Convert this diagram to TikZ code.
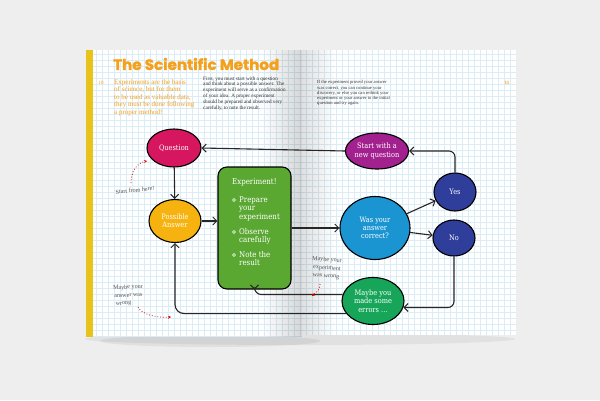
\documentclass[tikz,border=0pt]{standalone}
\usepackage{fontspec}
\usepackage{graphicx}
\setmainfont{Liberation Serif}
\newfontfamily\slab[FakeStretch=0.88]{DejaVu Serif}
\newfontfamily\titlefont[BoldFeatures={FakeBold=1.5}]{Poppins}
\usetikzlibrary{shapes.geometric,arrows.meta,calc,fadings}
\definecolor{bgc}{HTML}{EEEEEE}
\definecolor{gridc}{HTML}{DAECF5}
\definecolor{spiney}{HTML}{E8C31C}
\definecolor{orng}{HTML}{F5A01A}
\definecolor{qcol}{HTML}{D6175F}
\definecolor{pacol}{HTML}{F6B30F}
\definecolor{expcol}{HTML}{5AA832}
\definecolor{snqcol}{HTML}{A3218F}
\definecolor{yncol}{HTML}{2F3E9B}
\definecolor{wascol}{HTML}{1B95D2}
\definecolor{mmecol}{HTML}{17A55A}
\definecolor{annc}{HTML}{555555}
\tikzset{
 blob/.style={ellipse, draw=black, line width=1.1pt, inner sep=0pt, text=white, font=\slab\fontsize{7.5}{8.3}\selectfont, align=center},
 expbox/.style={rectangle, rounded corners=9pt, fill=expcol, draw=black, line width=1.1pt, minimum width=73pt, minimum height=122pt},
 exptxt/.style={text=white, font=\slab\fontsize{8}{8.5}\selectfont, inner sep=0pt, align=left},
 bul/.style={circle, draw=white, line width=0.6pt, minimum size=3pt, inner sep=0pt},
 conn/.style={draw=black!85, line width=1.1pt, -{Straight Barb[length=4pt,width=8pt,line width=1pt]}},
 annot/.style={text=annc, font=\fontsize{6.1}{7.5}\selectfont, inner sep=0pt},
 redarr/.style={draw=red!85!black, line width=0.8pt, dotted, -{Stealth[length=3pt,width=3pt]}},
 para/.style={inner sep=0pt, align=left, anchor=north west},
}
\begin{document}
\begin{tikzpicture}[x=1pt,y=-1pt]
\fill[bgc] (0,0) rectangle (600,400);
\useasboundingbox (0,0) rectangle (600,400);
% shadow under book
\fill[black, opacity=0.05] (300,339) ellipse [x radius=215, y radius=6];
\fill[black, opacity=0.06] (210,341) ellipse [x radius=110, y radius=6];
% pages
\fill[white] (86,50) rectangle (302,337);
\fill[white] (302,50) rectangle (516,335);
\begin{scope}
\clip (93,50) rectangle (302,337) (302,50) rectangle (516,335);
\foreach \x in {96,102,...,516} \draw[gridc, line width=0.5pt] (\x,50) -- (\x,337);
\foreach \y in {54,60,...,336} \draw[gridc, line width=0.5pt] (86,\y) -- (516,\y);
\end{scope}
% spine shading
\fill[black, path fading=west, opacity=0.16] (262,50) rectangle (302,337);
\fill[black, path fading=east, opacity=0.12] (302,50) rectangle (335,335);
% yellow strip
\fill[spiney] (86,50) rectangle (93,337);
% title and texts
\node[inner sep=0pt, anchor=west, text=orng] (title) at (113,64) {\resizebox{166pt}{12pt}{\titlefont\bfseries The Scientific Method}};
\node[inner sep=0pt, text=orng, font=\fontsize{5}{6}\selectfont] (p10) at (101,83) {10};
\node[inner sep=0pt, text=orng, font=\bfseries\fontsize{5}{6}\selectfont] (p11) at (507,83) {11};
\node[para, text=orng, font=\fontsize{7}{7.5}\selectfont] (intro) at (114,79.3) {Experiments are the basis\\of science, but for them\\to be used as valuable data,\\they must be done following\\a proper method!};
\node[para, text=black!80, font=\fontsize{5.2}{5.8}\selectfont] (parl) at (203,76.3) {First, you must start with a question\\and think about a possible answer. The\\experiment will serve as a confirmation\\of your idea. A proper experiment\\should be prepared and observed very\\carefully, to note the result.};
\node[para, text=black!80, font=\fontsize{4.6}{5.1}\selectfont] (parr) at (317,80.5) {If the experiment proved your answer\\was correct, you can continue your\\discovery, or else you can rethink your\\experiment or your answer to the initial\\question and try again.};
% nodes
\node[blob, fill=qcol, minimum width=54pt, minimum height=38pt] (q) at (174,148) {Question};
\node[blob, fill=pacol, minimum width=52pt, minimum height=43pt] (pa) at (175,221) {Possible\\Answer};
\node[expbox] (exp) at (254.5,228) {};
\node[blob, fill=snqcol, minimum width=62pt, minimum height=36pt] (snq) at (377,151) {Start with a\\new question};
\node[blob, fill=yncol, minimum width=42pt, minimum height=38pt] (yes) at (455,192) {Yes};
\node[blob, fill=wascol, minimum width=70pt, minimum height=63pt] (was) at (375,228) {Was your\\answer\\correct?};
\node[blob, fill=yncol, minimum width=42pt, minimum height=36pt] (no) at (454,238) {No};
\node[blob, fill=mmecol, minimum width=62pt, minimum height=47pt] (mme) at (373,301) {Maybe you\\made some\\errors \dots};
% experiment text
\node[exptxt, anchor=west] (et0) at (232,182) {Experiment!};
\node[bul] (b1) at (234,200) {};
\node[bul] (b2) at (234,232) {};
\node[bul] (b3) at (234,255) {};
\node[exptxt, anchor=north west] (et1) at (239,196) {Prepare\\your\\experiment};
\node[exptxt, anchor=north west] (et2) at (239,228) {Observe\\carefully};
\node[exptxt, anchor=north west] (et3) at (239,251) {Note the\\result};
% connectors
\draw[conn] (q) -- (pa);
\draw[conn] (pa.east) -- (pa.east -| exp.west);
\draw[conn] (exp.east) -- (was.west);
\draw[conn] (was) -- (yes);
\draw[conn] (was) -- (no);
\draw[conn, rounded corners=6pt] (yes.north) |- (snq.east);
\draw[conn] (snq.west) -- (q.east);
\draw[conn, rounded corners=6pt] (no.south) |- (mme.-12);
\draw[conn, rounded corners=7pt] (mme.168) -- (mme.168 -| exp.south) -- (exp.south);
\draw[conn, rounded corners=9pt] (mme.205) -- (mme.205 -| pa.south) -- (pa.south);
% annotations
\node[annot, rotate=6] (ann1) at (135,190) {Start from here!};
\coordinate (r1a) at (131,183);
\coordinate (r1b) at (147,161);
\draw[redarr] (r1a) .. controls (131,171) and (137,163) .. (r1b);
\node[annot, rotate=4, anchor=west] (ann2a) at (113,288.5) {Maybe your};
\node[annot, rotate=4, anchor=west] (ann2b) at (114,296.5) {answer was};
\node[annot, rotate=4, anchor=west] (ann2c) at (115.5,304.5) {wrong};
\coordinate (r2a) at (138,307);
\coordinate (r2b) at (171,317);
\draw[redarr] (r2a) .. controls (142,315) and (158,318) .. (r2b);
\node[annot, rotate=-4] (ann3a) at (327,260) {Maybe your};
\node[annot, rotate=-4] (ann3b) at (327,268.3) {experiment};
\node[annot, rotate=-4] (ann3c) at (326,276.5) {was wrong};
\coordinate (r3a) at (320,284);
\coordinate (r3b) at (312,296);
\draw[redarr] (r3a) .. controls (319,290) .. (r3b);
\end{tikzpicture}
\end{document}
